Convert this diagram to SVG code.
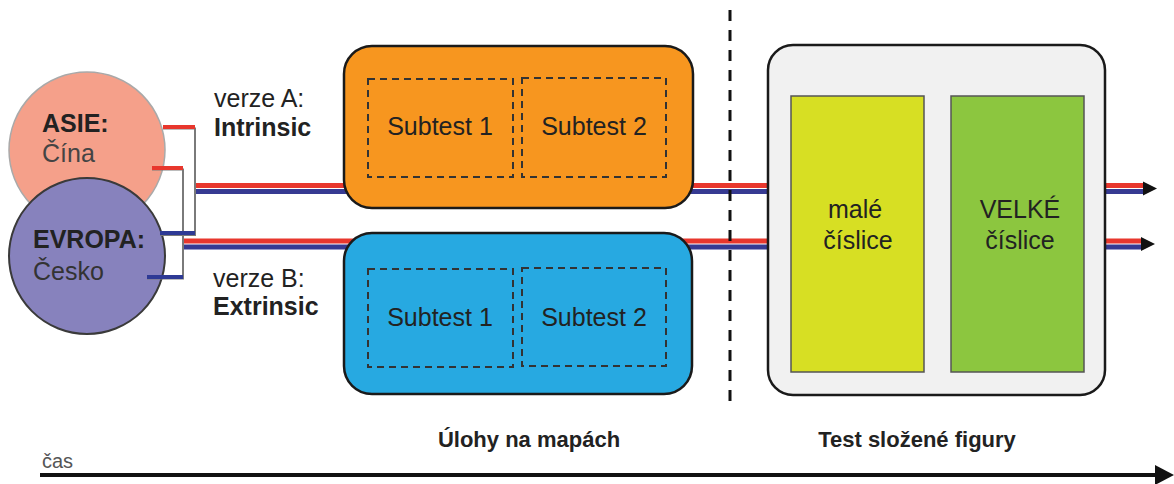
<svg xmlns="http://www.w3.org/2000/svg" width="1174" height="484" viewBox="0 0 1174 484">
  <defs>
    <style>
      text { font-family: "Liberation Sans", Arial, sans-serif; fill: #222; }
      .lbl { font-size: 25px; }
      .b { font-weight: bold; }
      .mid { text-anchor: middle; }
      .red { stroke: #e8372d; stroke-width: 5; fill: none; }
      .blue { stroke: #363a92; stroke-width: 5; fill: none; }
      .stubR { stroke: #e8372d; stroke-width: 4; fill: none; }
      .stubB { stroke: #2e3a95; stroke-width: 4; fill: none; }
      .bracket { stroke: #7a7a7a; stroke-width: 2; fill: none; }
      .box { stroke: #1a1a1a; stroke-width: 2.5; }
      .sub { fill: none; stroke: #333; stroke-width: 2; stroke-dasharray: 7 5; }
      .inner { stroke: #555; stroke-width: 1.5; }
    </style>
    <!-- arrowhead used at the end of both tracks -->
    <path id="head" d="M0,-7 L14,0 L0,7 Z" fill="#111"/>
  </defs>

  <rect width="1174" height="484" fill="#ffffff"/>

  <!-- connectors: version A and B tracks running through the tasks -->
  <g id="connectors">
    <line class="red" x1="195" y1="185.5" x2="1143" y2="185.5"/>
    <line class="blue" x1="195" y1="191.5" x2="1143" y2="191.5"/>
    <use href="#head" x="1143" y="188.5"/>

    <line class="red" x1="183" y1="241" x2="1141" y2="241"/>
    <line class="blue" x1="183" y1="247" x2="1141" y2="247"/>
    <use href="#head" x="1141" y="244"/>
  </g>

  <!-- group: Asia -->
  <g id="asie">
    <circle cx="87" cy="150" r="78" fill="#f5a08a" stroke="#a9a9a9" stroke-width="1.5"/>
    <text class="lbl b" x="42" y="132">ASIE:</text>
    <text class="lbl" x="42" y="162" style="fill:#444">Čína</text>
  </g>

  <!-- group: Europe -->
  <g id="evropa">
    <circle cx="87" cy="256" r="78" fill="#8782bd" stroke="#3a3a3a" stroke-width="2"/>
    <text class="lbl b" x="33" y="248">EVROPA:</text>
    <text class="lbl" x="33" y="280" style="fill:#333">Česko</text>
  </g>

  <!-- brackets joining the two groups into each version -->
  <g id="brackets">
    <path class="bracket" d="M163,128.5 H195 V235 H160"/>
    <path class="bracket" d="M152,169.5 H183 V278.5 H147"/>
    <line class="stubR" x1="163" y1="127" x2="195" y2="127"/>
    <line class="stubB" x1="160" y1="233" x2="195" y2="233"/>
    <line class="stubR" x1="152" y1="168" x2="183" y2="168"/>
    <line class="stubB" x1="147" y1="277" x2="183" y2="277"/>
  </g>

  <!-- version labels -->
  <g id="verze-a">
    <text class="lbl" x="214" y="107">verze A:</text>
    <text class="lbl b" x="214" y="136">Intrinsic</text>
  </g>
  <g id="verze-b">
    <text class="lbl" x="213" y="287">verze B:</text>
    <text class="lbl b" x="213" y="315">Extrinsic</text>
  </g>

  <!-- map tasks, version A -->
  <g id="ulohy-a">
    <rect class="box" x="344" y="46" width="349" height="162" rx="28" fill="#f7961f"/>
    <rect class="sub" x="368" y="79" width="145" height="98"/>
    <rect class="sub" x="522" y="78" width="144" height="99"/>
    <text class="lbl mid" x="440" y="135">Subtest 1</text>
    <text class="lbl mid" x="594" y="135">Subtest 2</text>
  </g>

  <!-- map tasks, version B -->
  <g id="ulohy-b">
    <rect class="box" x="344" y="233" width="348" height="161" rx="28" fill="#27a9e1"/>
    <rect class="sub" x="368" y="269" width="145" height="98"/>
    <rect class="sub" x="522" y="268" width="144" height="98"/>
    <text class="lbl mid" x="440" y="326">Subtest 1</text>
    <text class="lbl mid" x="594" y="326">Subtest 2</text>
  </g>

  <!-- phase separator -->
  <line x1="730" y1="10" x2="730" y2="406" stroke="#111" stroke-width="3" stroke-dasharray="11 9"/>

  <!-- complex figure test -->
  <g id="test-figury">
    <rect class="box" x="768" y="45" width="337" height="350" rx="25" fill="#f1f1f1"/>
  </g>
  <g id="male-cislice">
    <rect class="inner" x="791" y="96" width="133" height="276" fill="#d7df23"/>
    <text class="lbl mid" x="855" y="218">malé</text>
    <text class="lbl mid" x="858" y="249">číslice</text>
  </g>
  <g id="velke-cislice">
    <rect class="inner" x="951" y="96" width="133" height="276" fill="#8cc63f"/>
    <text class="lbl mid" x="1020" y="218">VELKÉ</text>
    <text class="lbl mid" x="1020" y="249">číslice</text>
  </g>

  <!-- phase captions -->
  <text class="b mid" x="529" y="447" style="font-size:22px">Úlohy na mapách</text>
  <text class="b mid" x="917" y="447" style="font-size:22px">Test složené figury</text>

  <!-- time axis -->
  <g id="cas">
    <text x="42" y="468" style="font-size:20px;fill:#555">čas</text>
    <line x1="40" y1="475" x2="1156" y2="475" stroke="#111" stroke-width="4"/>
    <polygon points="1155,465 1174,475 1155,485" fill="#111"/>
  </g>
</svg>
